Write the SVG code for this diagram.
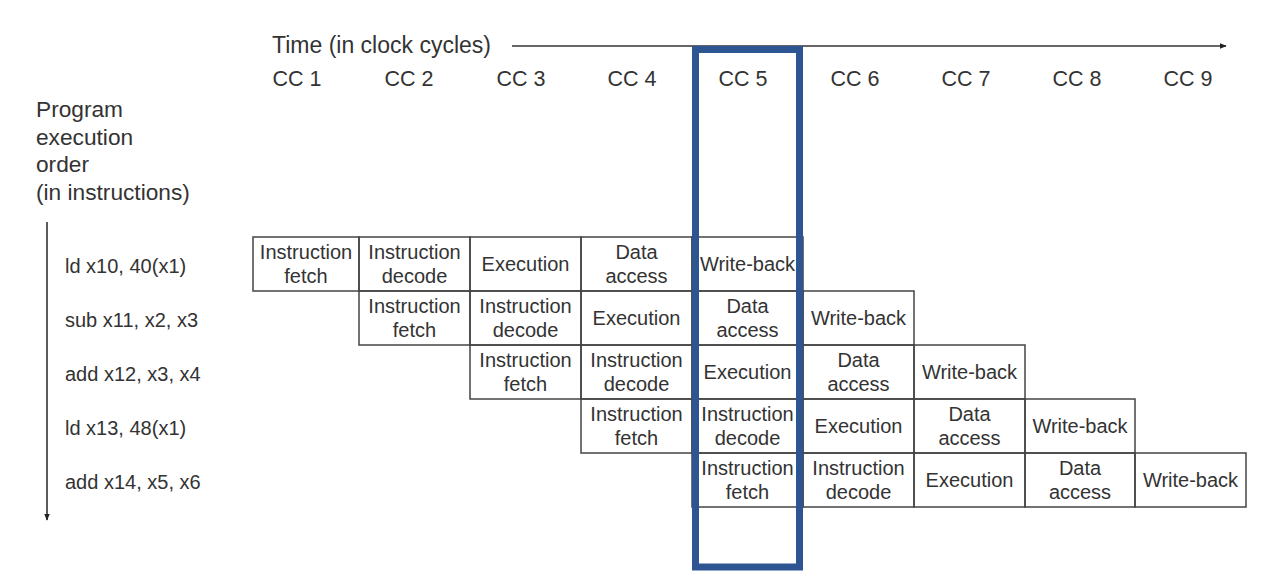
<svg xmlns="http://www.w3.org/2000/svg" width="1266" height="587" viewBox="0 0 1266 587">
<defs>
<style>
text{font-family:"Liberation Sans",Arial,Helvetica,sans-serif;fill:#333}
.t{font-size:22.7px}
.cc{font-size:21.5px;text-anchor:middle}
.i{font-size:20px}
.c{font-size:20px;text-anchor:middle}
.cell rect{fill:none;stroke:#444;stroke-width:1.5}
.axis{stroke:#333;stroke-width:1.6;fill:none}
</style>
<marker id="ah" viewBox="0 0 10 10" refX="9" refY="5" markerWidth="7" markerHeight="7" markerUnits="userSpaceOnUse" orient="auto">
<path d="M0,1 L10,5 L0,9 Z" fill="#222"/>
</marker>
</defs>
<rect width="1266" height="587" fill="#fff"/>

<g id="time-label">
<text class="t" x="272" y="53" style="font-size:23px">Time (in clock cycles)</text>
</g>
<g id="cc-labels">
<text class="cc" x="297" y="86">CC 1</text>
<text class="cc" x="409" y="86">CC 2</text>
<text class="cc" x="521" y="86">CC 3</text>
<text class="cc" x="632" y="86">CC 4</text>
<text class="cc" x="743" y="86">CC 5</text>
<text class="cc" x="855" y="86">CC 6</text>
<text class="cc" x="966" y="86">CC 7</text>
<text class="cc" x="1077" y="86">CC 8</text>
<text class="cc" x="1188" y="86">CC 9</text>
</g>
<g id="order-label">
<text class="t" x="36" y="117">Program</text>
<text class="t" x="36" y="145">execution</text>
<text class="t" x="36" y="172">order</text>
<text class="t" x="36" y="200">(in instructions)</text>
</g>
<g id="instr-labels">
<text class="i" x="65" y="273">ld x10, 40(x1)</text>
<text class="i" x="65" y="327">sub x11, x2, x3</text>
<text class="i" x="65" y="381">add x12, x3, x4</text>
<text class="i" x="65" y="435">ld x13, 48(x1)</text>
<text class="i" x="65" y="489">add x14, x5, x6</text>
</g>

<g id="connectors">
<line class="axis" x1="512" y1="46" x2="1226" y2="46" marker-end="url(#ah)"/>
<line class="axis" x1="47" y1="222" x2="47" y2="520" marker-end="url(#ah)"/>
</g>

<g id="row1">
<g id="r1-if" class="cell"><rect x="253" y="237" width="106" height="54"/><text class="c" x="306" y="259">Instruction</text><text class="c" x="306" y="283">fetch</text></g>
<g id="r1-id" class="cell"><rect x="359" y="237" width="111" height="54"/><text class="c" x="414.5" y="259">Instruction</text><text class="c" x="414.5" y="283">decode</text></g>
<g id="r1-ex" class="cell"><rect x="470" y="237" width="111" height="54"/><text class="c" x="525.5" y="271">Execution</text></g>
<g id="r1-ma" class="cell"><rect x="581" y="237" width="111" height="54"/><text class="c" x="636.5" y="259">Data</text><text class="c" x="636.5" y="283">access</text></g>
<g id="r1-wb" class="cell"><rect x="692" y="237" width="111" height="54"/><text class="c" x="747.5" y="271">Write-back</text></g>
</g>
<g id="row2">
<g id="r2-if" class="cell"><rect x="359" y="291" width="111" height="54"/><text class="c" x="414.5" y="313">Instruction</text><text class="c" x="414.5" y="337">fetch</text></g>
<g id="r2-id" class="cell"><rect x="470" y="291" width="111" height="54"/><text class="c" x="525.5" y="313">Instruction</text><text class="c" x="525.5" y="337">decode</text></g>
<g id="r2-ex" class="cell"><rect x="581" y="291" width="111" height="54"/><text class="c" x="636.5" y="325">Execution</text></g>
<g id="r2-ma" class="cell"><rect x="692" y="291" width="111" height="54"/><text class="c" x="747.5" y="313">Data</text><text class="c" x="747.5" y="337">access</text></g>
<g id="r2-wb" class="cell"><rect x="803" y="291" width="111" height="54"/><text class="c" x="858.5" y="325">Write-back</text></g>
</g>
<g id="row3">
<g id="r3-if" class="cell"><rect x="470" y="345" width="111" height="54"/><text class="c" x="525.5" y="367">Instruction</text><text class="c" x="525.5" y="391">fetch</text></g>
<g id="r3-id" class="cell"><rect x="581" y="345" width="111" height="54"/><text class="c" x="636.5" y="367">Instruction</text><text class="c" x="636.5" y="391">decode</text></g>
<g id="r3-ex" class="cell"><rect x="692" y="345" width="111" height="54"/><text class="c" x="747.5" y="379">Execution</text></g>
<g id="r3-ma" class="cell"><rect x="803" y="345" width="111" height="54"/><text class="c" x="858.5" y="367">Data</text><text class="c" x="858.5" y="391">access</text></g>
<g id="r3-wb" class="cell"><rect x="914" y="345" width="111" height="54"/><text class="c" x="969.5" y="379">Write-back</text></g>
</g>
<g id="row4">
<g id="r4-if" class="cell"><rect x="581" y="399" width="111" height="54"/><text class="c" x="636.5" y="421">Instruction</text><text class="c" x="636.5" y="445">fetch</text></g>
<g id="r4-id" class="cell"><rect x="692" y="399" width="111" height="54"/><text class="c" x="747.5" y="421">Instruction</text><text class="c" x="747.5" y="445">decode</text></g>
<g id="r4-ex" class="cell"><rect x="803" y="399" width="111" height="54"/><text class="c" x="858.5" y="433">Execution</text></g>
<g id="r4-ma" class="cell"><rect x="914" y="399" width="111" height="54"/><text class="c" x="969.5" y="421">Data</text><text class="c" x="969.5" y="445">access</text></g>
<g id="r4-wb" class="cell"><rect x="1025" y="399" width="110" height="54"/><text class="c" x="1080" y="433">Write-back</text></g>
</g>
<g id="row5">
<g id="r5-if" class="cell"><rect x="692" y="453" width="111" height="54"/><text class="c" x="747.5" y="475">Instruction</text><text class="c" x="747.5" y="499">fetch</text></g>
<g id="r5-id" class="cell"><rect x="803" y="453" width="111" height="54"/><text class="c" x="858.5" y="475">Instruction</text><text class="c" x="858.5" y="499">decode</text></g>
<g id="r5-ex" class="cell"><rect x="914" y="453" width="111" height="54"/><text class="c" x="969.5" y="487">Execution</text></g>
<g id="r5-ma" class="cell"><rect x="1025" y="453" width="110" height="54"/><text class="c" x="1080" y="475">Data</text><text class="c" x="1080" y="499">access</text></g>
<g id="r5-wb" class="cell"><rect x="1135" y="453" width="111" height="54"/><text class="c" x="1190.5" y="487">Write-back</text></g>
</g>

<g id="cc5-highlight">
<rect x="695.5" y="49.5" width="104" height="517.5" fill="none" stroke="#2C5592" stroke-width="7"/>
</g>
</svg>
